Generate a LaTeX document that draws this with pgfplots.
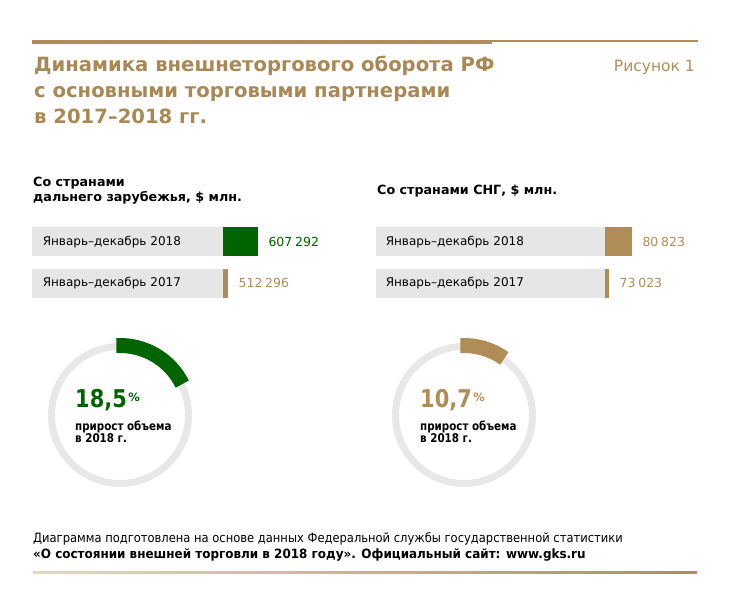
\documentclass[border=0pt]{standalone}
\usepackage{pgfplots}
\pgfplotsset{compat=1.18}
\usepackage{fontspec}
\setmainfont{DejaVu Sans}
\newfontfamily\condfont[FakeStretch=0.90]{DejaVu Sans}
\newfontfamily\condbfont[FakeStretch=0.935]{DejaVu Sans Bold}
\newfontfamily\smallbfont[FakeStretch=0.86]{DejaVu Sans Bold}
\newfontfamily\bigbfont[FakeStretch=0.855]{DejaVu Sans Bold}
\definecolor{tan}{RGB}{176,141,87}
\definecolor{titletan}{RGB}{168,136,84}
\definecolor{dkgreen}{RGB}{0,100,0}
\definecolor{boxgray}{RGB}{230,230,230}
\definecolor{ringgray}{RGB}{232,232,232}
% growth in 2018, %
\def\growFar{18.5}
\def\growCIS{10.7}
\pgfplotsset{barpanel/.style={
  scale only axis, width=115pt, height=82pt,
  xbar, bar width=29pt, bar shift=0pt,
  enlargelimits=false,
  ymin=-0.5, ymax=1.5,
  ytick={0,1}, yticklabels={Январь–декабрь 2017,Январь–декабрь 2018},
  xtick=\empty,
  axis line style={draw=none}, major tick length=0pt,
  yticklabel style={anchor=east, fill=boxgray, minimum height=29pt, inner ysep=0pt, align=left, font=\fontsize{12}{14}\selectfont, text=black},
  nodes near coords={\pgfmathprintnumber[fixed,precision=0,1000 sep={\hspace{0.22em}},assume math mode=true]{\pgfplotspointmeta}},
  point meta=x,
  every node near coord/.append style={anchor=west, xshift=7pt, font=\fontsize{12.5}{14}\selectfont},
  clip=true,
}}
\begin{document}
\begin{tikzpicture}[x=1pt,y=1pt]
\useasboundingbox (0,0) rectangle (730,614);
% top rule
\fill[tan] (32,570) rectangle (492,574);
\draw[tan, line width=1.5pt] (492,573) -- (698,573);
% title
\begin{scope}[every node/.style={anchor=base west, inner sep=0pt, text=titletan, font=\fontsize{19.6}{26}\bfseries}]
\node at (34,542) {Динамика внешнеторгового оборота РФ};
\node at (34,516) {с основными торговыми партнерами};
\node at (34,490) {в 2017–2018 гг.};
\end{scope}
\node[anchor=base east, inner sep=0pt, text=tan, font=\fontsize{15.5}{18}\selectfont] at (695,542) {Рисунок 1};
% section headers
\begin{scope}[every node/.style={anchor=base west, inner sep=0pt, font=\fontsize{12.7}{16}\bfseries}]
\node at (33,427) {Со странами};
\node at (33,412) {дальнего зарубежья, \$ млн.};
\node at (377,419) {Со странами СНГ, \$ млн.};
\end{scope}

% bars: far abroad
\begin{axis}[barpanel, at={(223pt,310.5pt)}, anchor=south west,
  xmin=496000, xmax=861700,
  yticklabel style={text width=169pt, inner xsep=11pt}]
\addplot[draw=none, fill=dkgreen, every node near coord/.append style={text=dkgreen}] coordinates {(607292,1)};
\addplot[draw=none, fill=tan, every node near coord/.append style={text=tan}] coordinates {(512296,0)};
\end{axis}
% bars: CIS
\begin{axis}[barpanel, at={(605pt,310.5pt)}, anchor=south west,
  xmin=71600, xmax=110884,
  yticklabel style={text width=209pt, inner xsep=10pt}]
\addplot[draw=none, fill=tan, every node near coord/.append style={text=tan}] coordinates {(80823,1)};
\addplot[draw=none, fill=tan, every node near coord/.append style={text=tan}] coordinates {(73023,0)};
\end{axis}

% growth rings
\begin{axis}[x=1pt, y=1pt, xmin=0, xmax=730, ymin=0, ymax=614, hide axis, clip=false,
  at={(0pt,0pt)}, anchor=origin]
\draw[ringgray, line width=7pt] (axis cs:120,199) circle[radius=68.5pt];
\draw[dkgreen, line width=15pt] (axis cs:120,199) ++(93:69.5pt) arc[start angle=93, delta angle={-\growFar*3.6}, radius=69.5pt];
\draw[ringgray, line width=7pt] (axis cs:464,199) circle[radius=68.5pt];
\draw[tan, line width=15pt] (axis cs:464,199) ++(93:69.5pt) arc[start angle=93, delta angle={-\growCIS*3.6}, radius=69.5pt];
\node[anchor=base west, inner sep=0pt, text=dkgreen, font=\bigbfont\fontsize{24.5}{28}\selectfont] (pA) at (axis cs:75,207) {18,5};
\node[anchor=north west, inner sep=0pt, text=dkgreen, font=\fontsize{11.5}{12}\bfseries] at ([xshift=1pt,yshift=-4pt]pA.north east) {\%};
\node[anchor=base west, inner sep=0pt, text=tan, font=\bigbfont\fontsize{24.5}{28}\selectfont] (pB) at (axis cs:420,207) {10,7};
\node[anchor=north west, inner sep=0pt, text=tan, font=\fontsize{11.5}{12}\bfseries] at ([xshift=1pt,yshift=-4pt]pB.north east) {\%};
\begin{scope}[every node/.style={anchor=base west, inner sep=0pt, font=\smallbfont\fontsize{12}{13}\selectfont}]
\node at (axis cs:75,184) {прирост объема};
\node at (axis cs:75,172) {в 2018 г.};
\node at (axis cs:420,184) {прирост объема};
\node at (axis cs:420,172) {в 2018 г.};
\end{scope}
\end{axis}

% footer
\node[anchor=base west, inner sep=0pt, font=\condfont\fontsize{12.8}{14}\selectfont] at (33,71.5) {Диаграмма подготовлена на основе данных Федеральной службы государственной статистики};
\node[anchor=base west, inner sep=0pt, font=\condbfont\fontsize{12.8}{14}\selectfont] at (33,55.5) {«О состоянии внешней торговли в 2018 году». Официальный сайт: www.gks.ru};
\shade[left color=tan!35, right color=tan] (33,41) rectangle (697,43);
\end{tikzpicture}
\end{document}
